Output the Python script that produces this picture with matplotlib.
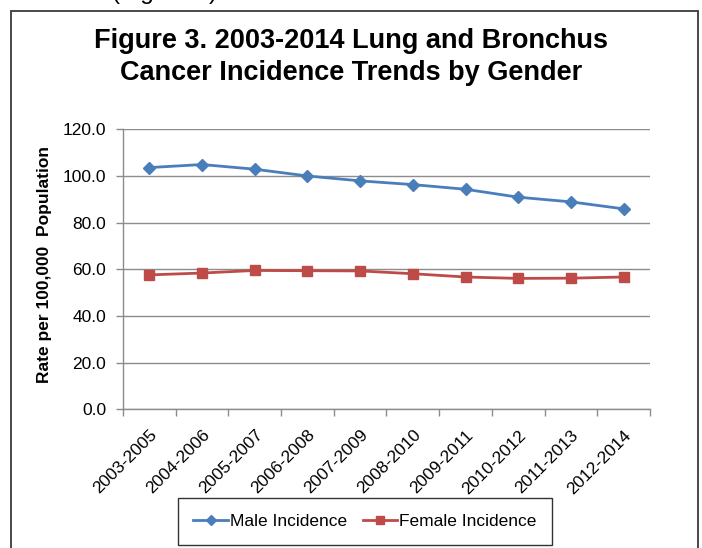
import matplotlib
matplotlib.use("Agg")
import matplotlib.pyplot as plt
from matplotlib.patches import Rectangle
from matplotlib.ticker import FormatStrFormatter, FixedLocator, NullFormatter
import numpy as np

categories = ["2003-2005", "2004-2006", "2005-2007", "2006-2008", "2007-2009",
              "2008-2010", "2009-2011", "2010-2012", "2011-2013", "2012-2014"]
male = [103.6, 104.9, 102.9, 100.0, 97.9, 96.3, 94.3, 90.9, 88.9, 85.9]
female = [57.6, 58.4, 59.5, 59.4, 59.3, 58.1, 56.7, 56.1, 56.2, 56.7]
series_names = ["Male Incidence", "Female Incidence"]
title = "Figure 3. 2003-2014 Lung and Bronchus\nCancer Incidence Trends by Gender"
ylabel = "Rate per 100,000  Population"

plt.rcParams['font.family'] = ['Liberation Sans', 'DejaVu Sans']

W, H = 702, 548
fig = plt.figure(figsize=(W / 100, H / 100), dpi=100)

# outer chart border
fig.patches.append(Rectangle((11 / W, -0.1), (698 - 11) / W, 1.1 - 11 / H,
                             transform=fig.transFigure, fill=False,
                             edgecolor='#3a3a3a', linewidth=1.3, clip_on=False))

# cut-off document text at very top
fig.text(112 / W, 1 + 1.5 / H, "(Figure 3)", fontsize=17.5, ha='left',
         va='baseline', color='black')

fig.text(0.5, 1 - 57 / H, title, fontsize=19.5, fontweight='bold',
         ha='center', va='center', linespacing=1.35)

ax = fig.add_axes([123 / W, 1 - 409.3 / H, (650 - 123) / W, 280 / H])
x = np.arange(len(categories))
grid_c = '#8c8c8c'
ax.plot(x, male, color='#4A7EBB', lw=2.0, marker='D', ms=6.5,
        label=series_names[0], zorder=3)
ax.plot(x, female, color='#BE4B48', lw=2.0, marker='s', ms=7.5,
        label=series_names[1], zorder=3)

ax.set_xlim(-0.5, len(categories) - 0.5)
ax.set_ylim(0, 120)
ax.set_yticks(np.arange(0, 121, 20))
ax.yaxis.set_major_formatter(FormatStrFormatter('%.1f'))
ax.yaxis.grid(True, color=grid_c, lw=1.0)
ax.set_axisbelow(True)

ax.set_xticks(x)
ax.set_xticklabels(categories, rotation=45, ha='right', rotation_mode='anchor')
ax.xaxis.set_minor_locator(FixedLocator(np.arange(-0.5, len(categories), 1.0)))
ax.xaxis.set_minor_formatter(NullFormatter())
ax.tick_params(axis='x', which='major', length=0, pad=13, labelsize=12.5)
ax.tick_params(axis='x', which='minor', length=5, color=grid_c, width=1.0)
ax.tick_params(axis='y', length=5, color=grid_c, width=1.0, pad=7, labelsize=12.5)

for s in ['top', 'right']:
    ax.spines[s].set_visible(False)
for s in ['left', 'bottom']:
    ax.spines[s].set_color(grid_c)
    ax.spines[s].set_linewidth(1.0)

fig.text(45 / W, 1 - 265 / H, ylabel, rotation=90, fontsize=12.5,
         fontweight='bold', ha='center', va='center')

leg = fig.legend(loc='center', bbox_to_anchor=(365 / W, 1 - 521.5 / H), ncol=2,
                 frameon=True, fontsize=12.5, handlelength=2.0,
                 handletextpad=0.1, columnspacing=0.9, borderpad=0.9,
                 borderaxespad=0, fancybox=False, edgecolor='black',
                 markerscale=0.85)
leg.get_frame().set_linewidth(1.0)

fig.savefig("out.png", dpi=100)
